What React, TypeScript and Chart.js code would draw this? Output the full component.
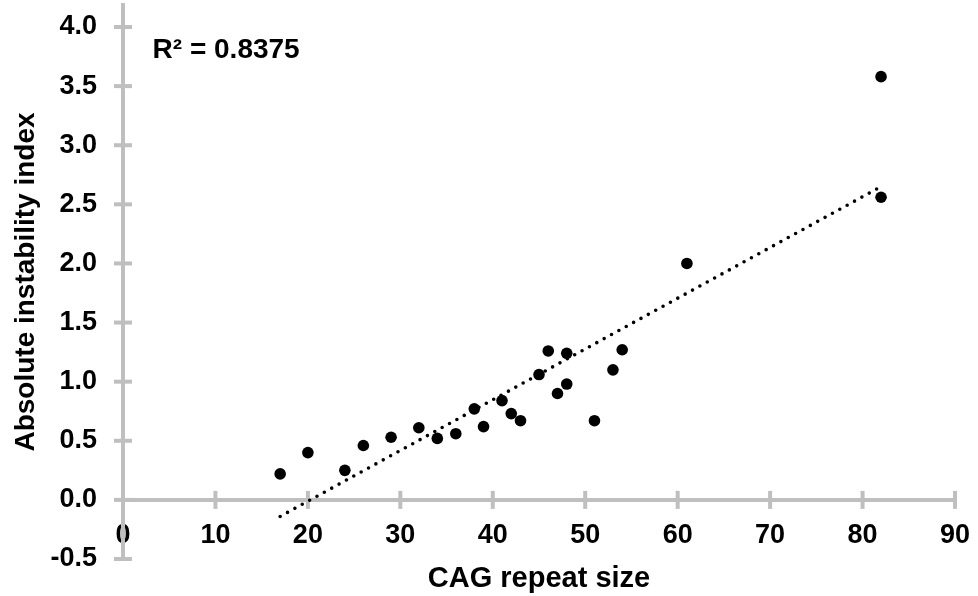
import React, { useEffect, useRef } from "react";
import { Chart, registerables } from "chart.js";

Chart.register(...registerables);

// CAG repeat size (x) and absolute instability index (y)
const cagRepeat = [17, 20, 24, 26, 29, 32, 34, 36, 38, 39, 41, 42, 43, 45, 46, 47, 48, 48, 51, 53, 54, 61, 82, 82];
const instability = [0.22, 0.40, 0.25, 0.46, 0.53, 0.61, 0.52, 0.56, 0.77, 0.62, 0.84, 0.73, 0.67, 1.06, 1.26, 0.90, 1.24, 0.98, 0.67, 1.10, 1.27, 2.00, 3.58, 2.56];

// Linear trendline end points (as drawn in the reference)
const trendX = [17, 82];
const trendY = [-0.14, 2.65];

const xTitle = "CAG repeat size";
const yTitle = "Absolute instability index";
const rSquaredLabel = "R\u00B2 = 0.8375";

const X_MIN = 0;
const X_MAX = 90;
const X_STEP = 10;
const Y_MIN = -0.5;
const Y_MAX = 4.0;
const Y_STEP = 0.5;

const FONT = "'Liberation Sans', Arial, Helvetica, sans-serif";
const AXIS_GRAY = "#BFBFBF";

// plot-area frame in canvas pixels
const AREA = { left: 123, right: 955, top: 27, bottom: 559 };
const X_AXIS_BOX_HEIGHT = 97;

const fixAreaPlugin = {
  id: "fixArea",
  afterLayout(chart: any) {
    const xs = chart.scales.x;
    const ys = chart.scales.y;
    ys.top = AREA.top;
    ys.bottom = AREA.bottom;
    ys.height = AREA.bottom - AREA.top;
    ys.left = 0;
    ys.right = AREA.left;
    ys.width = AREA.left;
    ys.configure();
    xs.left = AREA.left;
    xs.right = AREA.right;
    xs.width = AREA.right - AREA.left;
    xs.configure();
    // boxes used only for placing the axis titles (value-to-pixel mapping already fixed)
    ys.top = AREA.top - 22;
    xs.top = ys.getPixelForValue(0);
    xs.bottom = xs.top + X_AXIS_BOX_HEIGHT;
    xs.height = X_AXIS_BOX_HEIGHT;
    Object.assign(chart.chartArea, {
      left: AREA.left,
      right: AREA.right,
      top: AREA.top,
      bottom: AREA.bottom,
      width: AREA.right - AREA.left,
      height: AREA.bottom - AREA.top,
    });
  },
};

const crossTicksPlugin = {
  id: "crossTicks",
  beforeDatasetsDraw(chart: any) {
    const ctx = chart.ctx;
    const xs = chart.scales.x;
    const ys = chart.scales.y;
    const y0 = ys.getPixelForValue(0);
    const x0 = xs.getPixelForValue(0);
    ctx.save();
    ctx.strokeStyle = AXIS_GRAY;
    ctx.lineWidth = 4;
    ctx.lineCap = "butt";
    xs.ticks.forEach((t: any) => {
      const px = xs.getPixelForValue(t.value);
      ctx.beginPath();
      ctx.moveTo(px, y0 - 9);
      ctx.lineTo(px, y0 + 9);
      ctx.stroke();
    });
    ys.ticks.forEach((t: any) => {
      const py = ys.getPixelForValue(t.value);
      ctx.beginPath();
      ctx.moveTo(x0 - 9, py);
      ctx.lineTo(x0 + 9, py);
      ctx.stroke();
    });
    ctx.restore();
  },
};

const rSquaredPlugin = {
  id: "rSquared",
  afterDatasetsDraw(chart: any) {
    const ctx = chart.ctx;
    const xs = chart.scales.x;
    const ys = chart.scales.y;
    ctx.save();
    ctx.fillStyle = "#000";
    ctx.font = `bold 28px ${FONT}`;
    ctx.textAlign = "left";
    ctx.textBaseline = "middle";
    ctx.fillText(rSquaredLabel, xs.getPixelForValue(3.2), ys.getPixelForValue(3.8));
    ctx.restore();
  },
};

export default function App() {
  const canvasRef = useRef<HTMLCanvasElement | null>(null);

  useEffect(() => {
    if (!canvasRef.current) return;
    const points = cagRepeat.map((x, i) => ({ x, y: instability[i] }));
    const trend = trendX.map((x, i) => ({ x, y: trendY[i] }));

    const chart = new Chart(canvasRef.current, {
      type: "scatter",
      data: {
        datasets: [
          {
            label: "data",
            data: points,
            pointRadius: 5.8,
            pointHoverRadius: 5.8,
            backgroundColor: "#000",
            borderWidth: 0,
            showLine: false,
          },
          {
            label: "trend",
            data: trend,
            showLine: true,
            pointRadius: 0,
            borderColor: "#000",
            borderWidth: 3.6,
            borderDash: [0, 8.4],
            borderCapStyle: "round",
            fill: false,
          } as any,
        ],
      },
      options: {
        responsive: false,
        animation: false,
        layout: { padding: { left: 0, right: 23, top: 27, bottom: 37 } },
        plugins: {
          legend: { display: false },
          tooltip: { enabled: false },
        },
        scales: {
          x: {
            type: "linear",
            position: { y: 0 } as any,
            min: X_MIN,
            max: X_MAX,
            ticks: {
              stepSize: X_STEP,
              color: "#000",
              padding: 19,
              font: { family: FONT, size: 27, weight: "bold" },
              maxRotation: 0,
            },
            grid: { display: false, drawTicks: false },
            border: { display: true, color: AXIS_GRAY, width: 4 },
            title: {
              display: true,
              text: xTitle,
              color: "#000",
              font: { family: FONT, size: 29, weight: "bold" },
              padding: { top: 0, bottom: 0 },
            },
          },
          y: {
            type: "linear",
            min: Y_MIN,
            max: Y_MAX,
            ticks: {
              stepSize: Y_STEP,
              color: "#000",
              padding: 26,
              font: { family: FONT, size: 27, weight: "bold" },
              callback: (v: any) => Number(v).toFixed(1),
            },
            grid: { display: false, drawTicks: false },
            border: { display: true, color: AXIS_GRAY, width: 4 },
            title: {
              display: true,
              text: yTitle,
              color: "#000",
              font: { family: FONT, size: 28, weight: "bold" },
              padding: { top: 9, bottom: 0 },
            },
          },
        },
      },
      plugins: [fixAreaPlugin, crossTicksPlugin, rSquaredPlugin],
    });
    return () => chart.destroy();
  }, []);

  return (
    <div style={{ position: "fixed", left: 0, top: 0, width: 978, height: 596, background: "#fff" }}>
      <canvas ref={canvasRef} width={978} height={596} />
    </div>
  );
}
